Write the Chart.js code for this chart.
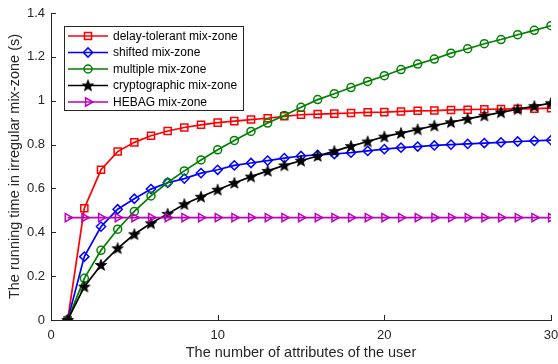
<!DOCTYPE html>
<html>
<head>
<meta charset="utf-8">
<script src="https://cdn.jsdelivr.net/npm/chart.js@4/dist/chart.umd.min.js"></script>
<style>
  html, body { margin: 0; padding: 0; background: #fff; }
  #wrap { width: 558px; height: 364px; }
</style>
</head>
<body>
<div id="wrap"><canvas id="c" width="558" height="364"></canvas></div>
<script>
// Number of user attributes (x axis)
const attributes = [1, 2, 3, 4, 5, 6, 7, 8, 9, 10, 11, 12, 13, 14, 15,
                    16, 17, 18, 19, 20, 21, 22, 23, 24, 25, 26, 27, 28, 29, 30];

// Running time (s) for each mix-zone scheme
const delayTolerant = [0, 0.51, 0.685, 0.768, 0.81, 0.84, 0.862, 0.878, 0.89, 0.90,
                       0.907, 0.914, 0.92, 0.929, 0.936, 0.939, 0.941, 0.944, 0.947, 0.948,
                       0.951, 0.954, 0.955, 0.958, 0.959, 0.961, 0.962, 0.963, 0.964, 0.966];
const shifted = [0, 0.289, 0.426, 0.505, 0.553, 0.597, 0.626, 0.645, 0.67, 0.685,
                 0.705, 0.716, 0.727, 0.738, 0.748, 0.753, 0.757, 0.763, 0.771, 0.779,
                 0.786, 0.791, 0.796, 0.8, 0.803, 0.807, 0.81, 0.814, 0.817, 0.82];
const multiple = [0, 0.19, 0.318, 0.414, 0.495, 0.566, 0.627, 0.68, 0.73, 0.776,
                  0.819, 0.86, 0.898, 0.933, 0.97, 1.005, 1.032, 1.06, 1.088, 1.114,
                  1.142, 1.167, 1.19, 1.217, 1.237, 1.26, 1.279, 1.301, 1.321, 1.342];
const cryptographic = [0, 0.152, 0.251, 0.327, 0.391, 0.441, 0.484, 0.528, 0.562, 0.594,
                       0.625, 0.654, 0.68, 0.705, 0.726, 0.748, 0.77, 0.793, 0.814, 0.836,
                       0.852, 0.869, 0.886, 0.902, 0.917, 0.932, 0.947, 0.961, 0.975, 0.989];
const hebag = [0.467, 0.467, 0.467, 0.467, 0.467, 0.467, 0.467, 0.467, 0.467, 0.467,
               0.467, 0.467, 0.467, 0.467, 0.467, 0.467, 0.467, 0.467, 0.467, 0.467,
               0.467, 0.467, 0.467, 0.467, 0.467, 0.467, 0.467, 0.467, 0.467, 0.467];

// Axis ticks
const xTicks = [0, 10, 20, 30];
const yTicks = [0, 0.2, 0.4, 0.6, 0.8, 1, 1.2, 1.4];

const seriesNames = ['delay-tolerant mix-zone', 'shifted mix-zone', 'multiple mix-zone',
                     'cryptographic mix-zone', 'HEBAG mix-zone'];

const FONT = "'Liberation Sans', Arial, Helvetica, sans-serif";
const AXIS_COLOR = '#262626';

// Filled five-pointed star marker
function makeStar(color) {
  const size = 14;
  const cv = document.createElement('canvas');
  cv.width = size; cv.height = size;
  const g = cv.getContext('2d');
  const cx = size / 2, cy = size / 2 + 0.4, ro = 6.0, ri = 2.5;
  g.beginPath();
  for (let i = 0; i < 10; i++) {
    const r = i % 2 === 0 ? ro : ri;
    const a = -Math.PI / 2 + i * Math.PI / 5;
    const px = cx + r * Math.cos(a), py = cy + r * Math.sin(a);
    if (i === 0) g.moveTo(px, py); else g.lineTo(px, py);
  }
  g.closePath();
  g.fillStyle = color;
  g.fill();
  g.lineWidth = 0.8;
  g.strokeStyle = color;
  g.stroke();
  return cv;
}
const starMarker = makeStar('#000000');

const styles = [
  { color: '#ff0000', pointStyle: 'rect',     radius: 5,   rotation: 0 },
  { color: '#0000ff', pointStyle: 'rectRot',  radius: 4.6, rotation: 0 },
  { color: '#008000', pointStyle: 'circle',   radius: 4,   rotation: 0 },
  { color: '#000000', pointStyle: starMarker, radius: 5,   rotation: 0 },
  { color: '#bf00bf', pointStyle: 'triangle', radius: 4.8, rotation: 90 }
];
const seriesValues = [delayTolerant, shifted, multiple, cryptographic, hebag];

const datasets = seriesValues.map((vals, i) => ({
  label: seriesNames[i],
  data: attributes.map((a, k) => ({ x: a, y: vals[k] })),
  borderColor: styles[i].color,
  backgroundColor: styles[i].color,
  borderWidth: 1.7,
  pointStyle: styles[i].pointStyle,
  pointRadius: styles[i].radius,
  pointRotation: styles[i].rotation,
  pointBorderColor: styles[i].color,
  pointBackgroundColor: 'rgba(0,0,0,0)',
  pointBorderWidth: 1.5,
  tension: 0,
  order: 5 - i
}));

// Inward tick marks on both axes
const inwardTicks = {
  id: 'inwardTicks',
  afterDatasetsDraw(chart) {
    const { ctx, scales: { x, y }, chartArea } = chart;
    ctx.save();
    ctx.strokeStyle = AXIS_COLOR;
    ctx.lineWidth = 1;
    ctx.beginPath();
    xTicks.forEach(v => {
      const px = Math.round(x.getPixelForValue(v)) + 0.5;
      ctx.moveTo(px, chartArea.bottom);
      ctx.lineTo(px, chartArea.bottom - 5);
    });
    yTicks.forEach(v => {
      const py = Math.round(y.getPixelForValue(v)) + 0.5;
      ctx.moveTo(chartArea.left, py);
      ctx.lineTo(chartArea.left + 5, py);
    });
    ctx.stroke();
    ctx.restore();
  }
};

// Boxed legend with line samples and markers
const lineLegend = {
  id: 'lineLegend',
  afterDraw(chart) {
    const ctx = chart.ctx;
    const box = { x: 64.5, y: 26.5, w: 179, h: 84 };
    ctx.save();
    ctx.fillStyle = '#ffffff';
    ctx.fillRect(box.x, box.y, box.w, box.h);
    ctx.strokeStyle = AXIS_COLOR;
    ctx.lineWidth = 1;
    ctx.strokeRect(box.x, box.y, box.w, box.h);
    ctx.font = '12px ' + FONT;
    ctx.textBaseline = 'middle';
    ctx.textAlign = 'left';
    seriesNames.forEach((name, i) => {
      const yy = 36 + i * 16.5;
      const st = styles[i];
      ctx.strokeStyle = st.color;
      ctx.lineWidth = 1.7;
      ctx.beginPath();
      ctx.moveTo(68, yy);
      ctx.lineTo(108, yy);
      ctx.stroke();
      ctx.fillStyle = 'rgba(0,0,0,0)';
      ctx.lineWidth = 1.5;
      Chart.helpers.drawPoint(ctx, {
        pointStyle: st.pointStyle, radius: st.radius, rotation: st.rotation, borderWidth: 1.5
      }, 88, yy);
      ctx.fillStyle = '#000000';
      ctx.fillText(name, 113, yy + 0.5);
    });
    ctx.restore();
  }
};

new Chart(document.getElementById('c'), {
  type: 'line',
  data: { datasets },
  plugins: [inwardTicks, lineLegend],
  options: {
    responsive: false,
    animation: false,
    events: [],
    layout: { padding: { top: 13, right: 7, left: 0, bottom: 0 } },
    plugins: { legend: { display: false }, tooltip: { enabled: false } },
    scales: {
      x: {
        type: 'linear',
        min: 0, max: 30,
        afterFit(s) { s.height = 44; s.paddingLeft = 0; s.paddingRight = 0; },
        afterBuildTicks(s) { s.ticks = xTicks.map(v => ({ value: v })); },
        ticks: { color: AXIS_COLOR, font: { family: FONT, size: 13 }, padding: 8, maxRotation: 0 },
        grid: { display: false, drawTicks: false },
        border: { display: true, color: AXIS_COLOR, width: 1 },
        title: { display: true, text: 'The number of attributes of the user',
                 color: AXIS_COLOR, font: { family: FONT, size: 14.5 }, padding: { top: 0, bottom: 2 } }
      },
      y: {
        type: 'linear',
        min: 0, max: 1.4,
        afterFit(s) { s.width = 51; s.paddingTop = 0; s.paddingBottom = 0; },
        afterBuildTicks(s) { s.ticks = yTicks.map(v => ({ value: v })); },
        ticks: { color: AXIS_COLOR, font: { family: FONT, size: 13 }, padding: 6,
                 callback: v => String(parseFloat(Number(v).toFixed(1))) },
        grid: { display: false, drawTicks: false },
        border: { display: true, color: AXIS_COLOR, width: 1 },
        title: { display: true, text: 'The running time in irregular mix-zone (s)',
                 color: AXIS_COLOR, font: { family: FONT, size: 14.5 }, padding: { top: 6, bottom: 0 } }
      }
    }
  }
});
</script>
</body>
</html>
